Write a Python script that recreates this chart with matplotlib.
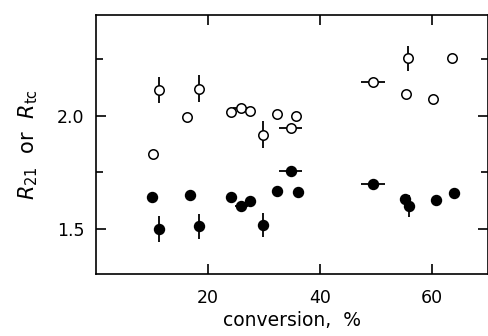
import matplotlib
matplotlib.use("Agg")
import matplotlib.pyplot as plt
import numpy as np

# Open circles (R_tc)
open_x = [10.2, 11.4, 16.4, 18.5, 24.2, 26.0, 27.5, 29.8, 32.4, 34.8, 35.8, 49.5, 55.3, 55.8, 60.2, 63.6]
open_y = [1.830, 2.115, 1.994, 2.120, 2.019, 2.034, 2.020, 1.917, 2.009, 1.945, 2.000, 2.150, 2.097, 2.255, 2.075, 2.258]
open_xerr = [0, 0, 0, 0, 0, 1.5, 0, 0, 0, 2.1, 0, 2.1, 0, 0, 0, 0]
open_yerr = [0, 0.057, 0, 0.060, 0, 0, 0, 0.060, 0, 0, 0, 0, 0, 0.055, 0, 0]

# Filled circles (R_21)
filled_x = [10.1, 11.4, 16.9, 18.4, 24.2, 26.0, 27.5, 29.8, 32.4, 34.8, 36.1, 49.5, 55.2, 55.9, 60.7, 63.9]
filled_y = [1.643, 1.498, 1.649, 1.512, 1.639, 1.599, 1.624, 1.519, 1.668, 1.754, 1.664, 1.698, 1.633, 1.602, 1.627, 1.658]
filled_xerr = [0, 0, 0, 0, 0, 1.2, 0, 0, 0, 2.0, 0, 2.1, 0, 0, 0, 0]
filled_yerr = [0, 0.058, 0, 0.055, 0, 0, 0, 0.053, 0, 0, 0, 0, 0, 0.050, 0, 0]

x_ticks = [20, 40, 60]
y_ticks = [1.5, 2.0]
y_minor = [1.75, 2.25]

fig = plt.figure(figsize=(4.88, 3.36), dpi=100)
ax = fig.add_axes([95.5 / 488, 62 / 336, (488 - 95.5) / 488, (274 - 15) / 336])

ax.errorbar(filled_x, filled_y, xerr=filled_xerr, yerr=filled_yerr, fmt='o',
            color='black', markersize=7.2, elinewidth=1.3, capsize=0, zorder=3)
ax.errorbar(open_x, open_y, xerr=open_xerr, yerr=open_yerr, fmt='o',
            color='black', markerfacecolor='white', markeredgecolor='black',
            markeredgewidth=1.1, markersize=6.8, elinewidth=1.3, capsize=0, zorder=3)

ax.set_xlim(0, 70)
ax.set_ylim(1.30, 2.447)
ax.set_xticks(x_ticks)
ax.set_yticks(y_ticks)
ax.set_yticks(y_minor, minor=True)
ax.set_yticklabels(['1.5', '2.0'])

ax.tick_params(axis='both', which='major', direction='in', length=7, width=1.2,
               top=True, right=True, labelsize=12.5)
ax.tick_params(axis='x', which='major', pad=11)
ax.tick_params(axis='y', which='major', pad=8)
ax.tick_params(axis='y', which='minor', direction='in', length=5, width=1.2,
               left=True, right=True)

for s in ax.spines.values():
    s.set_linewidth(1.2)

ax.set_xlabel('conversion,  %', fontsize=13.5, labelpad=3)
ax.set_ylabel(r'$R_{21}$  or  $R_{\mathrm{tc}}$', fontsize=15, labelpad=12)

fig.savefig('out.png', dpi=100)
